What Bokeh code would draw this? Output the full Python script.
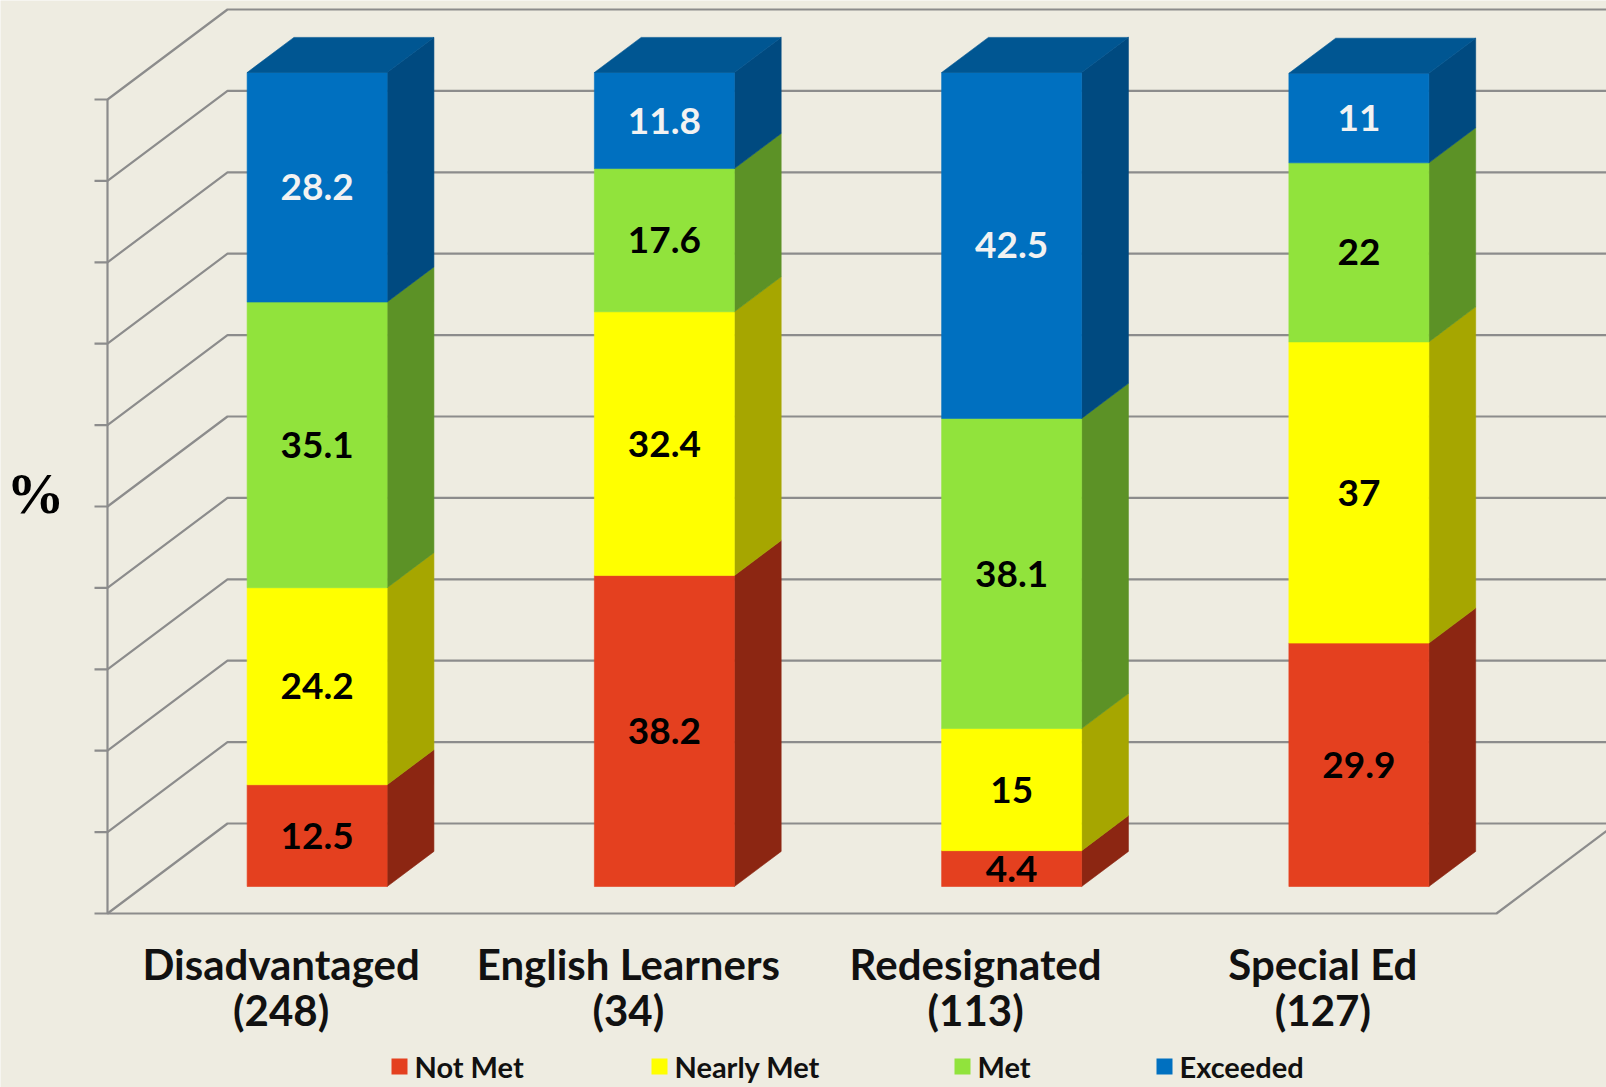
from bokeh.plotting import figure
from bokeh.models import Range1d
from bokeh.embed import file_html
from bokeh.resources import INLINE
from bokeh.core.properties import value

# ---------------- data ----------------
categories = ["Disadvantaged", "English Learners", "Redesignated", "Special Ed"]
counts = ["(248)", "(34)", "(113)", "(127)"]
series_names = ["Not Met", "Nearly Met", "Met", "Exceeded"]
not_met = [12.5, 38.2, 4.4, 29.9]
nearly_met = [24.2, 32.4, 15.0, 37.0]
met = [35.1, 17.6, 38.1, 22.0]
exceeded = [28.2, 11.8, 42.5, 11.0]
y_ticks = list(range(0, 101, 10))
series = [not_met, nearly_met, met, exceeded]

# ---------------- style ----------------
bg = "#EEECE1"
grid_color = "#8C8C8C"
front_colors = ["#E4401F", "#FFFF00", "#91E33C", "#0070C0"]
side_colors = ["#8C2612", "#A6A600", "#5C9226", "#004A80"]
top_color = "#005692"
label_colors = ["#000000", "#000000", "#000000", "#F2F2F2"]
FONT = "Lato"

W, H = 1606, 1087
# screen-pixel layout of the front plane
X0_PX, X4_PX = 107.0, 1496.0
V0_PX, V100_PX = 913.0, 99.0
ppx = (X4_PX - X0_PX) / 4.0
ppv = (V0_PX - V100_PX) / 100.0


def sx(px):
    return (px - X0_PX) / ppx


def sv(py):
    return (V0_PX - py) / ppv


DX = 120.0 / ppx          # depth offset in x units
DY = 90.0 / ppv           # depth offset in value units
T0, T1 = 0.30, 0.69       # bar depth (front / back)
HALF = 70.0 / ppx         # half bar width
TICK = 13.0 / ppx

p = figure(width=W, height=H,
           x_range=Range1d(sx(0), sx(W)),
           y_range=Range1d(sv(H), sv(0)),
           output_backend="svg", toolbar_location=None, min_border=0)
p.axis.visible = False
p.grid.visible = False
p.outline_line_color = None
p.background_fill_color = bg
p.border_fill_color = bg

# ---------------- walls ----------------
n = len(categories)
gx, gy = [], []
for v in y_ticks:
    gx.append([-TICK, 0, DX, n + DX + 0.5])
    gy.append([v, v, v + DY, v + DY])
p.multi_line(gx, gy, line_color=grid_color, line_width=2.2)
p.multi_line([[0, 0], [0, n, n + DX]], [[0, 100], [0, 0, DY]],
             line_color=grid_color, line_width=2.2)

# ---------------- bars ----------------
for i in range(n):
    cx = i + 0.5
    xl, xr = cx - HALF, cx + HALF
    base = 0.0
    for s, vals in enumerate(series):
        v = vals[i]
        v0, v1 = base, base + v
        # side face
        p.patch([xr + T0 * DX, xr + T1 * DX, xr + T1 * DX, xr + T0 * DX],
                [v0 + T0 * DY, v0 + T1 * DY, v1 + T1 * DY, v1 + T0 * DY],
                fill_color=side_colors[s], line_color=side_colors[s], line_width=0.6)
        # front face
        p.quad(left=[xl + T0 * DX], right=[xr + T0 * DX],
               bottom=[v0 + T0 * DY], top=[v1 + T0 * DY],
               fill_color=front_colors[s], line_color=front_colors[s], line_width=0.6)
        base = v1
    # top face
    p.patch([xl + T0 * DX, xr + T0 * DX, xr + T1 * DX, xl + T1 * DX],
            [base + T0 * DY, base + T0 * DY, base + T1 * DY, base + T1 * DY],
            fill_color=top_color, line_color=top_color, line_width=0.6)

# value labels
for s, vals in enumerate(series):
    xs, ys, txt = [], [], []
    cum = [sum(series[k][i] for k in range(s)) for i in range(n)]
    for i in range(n):
        xs.append(i + 0.5 + T0 * DX)
        ys.append(cum[i] + vals[i] / 2 + T0 * DY)
        txt.append(f"{vals[i]:g}")
    p.text(xs, ys, text=txt, text_align="center", text_baseline="middle",
           text_font=value(FONT), text_font_style="bold", text_font_size="37px",
           text_color=label_colors[s])

# category labels
cx_list = [i + 0.5 for i in range(n)]
p.text(cx_list, [sv(963)] * n, text=categories, text_align="center",
       text_baseline="middle", text_font=value(FONT), text_font_style="bold",
       text_font_size="42px", text_color="#111111")
p.text(cx_list, [sv(1009)] * n, text=counts, text_align="center",
       text_baseline="middle", text_font=value(FONT), text_font_style="bold",
       text_font_size="42px", text_color="#111111")

# "%" axis label
p.text([sx(35)], [sv(493)], text=["%"], text_align="center", text_baseline="middle",
       text_font=value("Liberation Serif"), text_font_style="bold",
       text_font_size="58px", text_color="#000000")

# legend
leg_px = [391, 651, 954, 1156]
leg_y = sv(1066)
p.scatter([sx(px + 8) for px in leg_px], [leg_y] * 4, marker="square", size=16,
          fill_color=front_colors, line_color=None)
p.text([sx(px + 23) for px in leg_px], [leg_y] * 4, text=series_names,
       text_align="left", text_baseline="middle", text_font=value(FONT),
       text_font_style="bold", text_font_size="29px", text_color="#111111")

open("out.html", "w").write(file_html(p, INLINE))
